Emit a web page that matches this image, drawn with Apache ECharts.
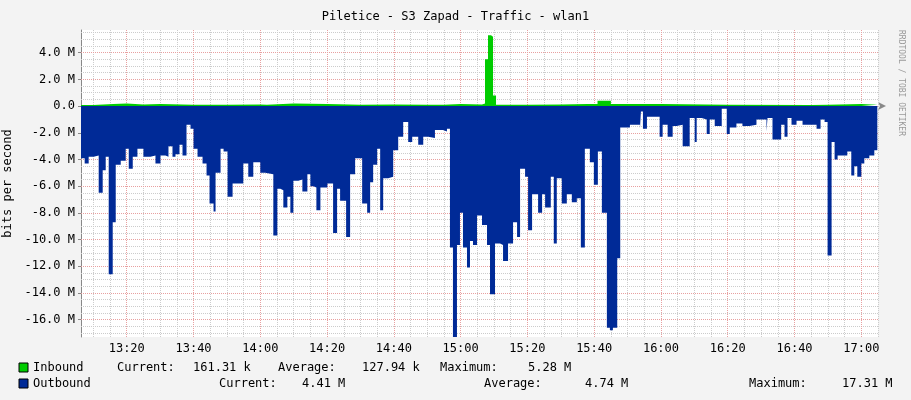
<!DOCTYPE html><html><head><meta charset="utf-8">
<script src="https://cdn.jsdelivr.net/npm/echarts@6/dist/echarts.min.js"></script>
<style>html,body{margin:0;background:#F3F3F3}#c{width:911px;height:400px}</style></head><body><div id="c"></div>
<script>
// minutes after 13:00
const outTimes=[6.2,7.4,8.6,10.1,11.6,12.8,13.7,14.6,15.8,16.7,18.2,19.7,20.6,21.8,23.2,25.0,27.1,28.6,30.1,31.6,32.5,33.7,34.6,35.8,36.7,37.9,39.1,40.0,41.2,42.7,43.9,44.8,46.0,46.6,48.1,49.0,50.2,51.7,53.4,54.9,56.4,57.9,60.0,61.5,63.9,65.1,66.0,66.9,68.1,69.0,69.9,71.4,72.6,74.1,75.0,75.9,76.8,78.0,80.1,81.8,83.0,83.9,85.7,86.9,88.4,90.5,92.0,92.9,93.8,95.0,95.9,96.8,98.3,99.8,101.3,102.8,104.3,105.5,107.3,108.8,110.3,112.3,114.7,115.9,116.8,117.7,118.9,119.8,120.7,121.9,122.8,123.7,124.9,126.4,127.9,128.8,130.3,131.8,132.7,134.2,135.7,136.9,137.8,139.3,140.2,141.4,142.3,143.2,144.4,145.3,146.1,147.0,147.9,148.8,150.3,151.8,153.3,154.8,156.0,157.2,158.7,159.9,161.1,162.3,163.8,164.7,165.6,166.9,167.8,169.9,170.7,173.7,174.0,174.6,175.8,177.5,179.6,180.5,182.0,183.5,184.7,186.5,188.6,190.1,190.7,192.2,193.7,194.6,196.1,198.2,199.7,200.6,202.6,204.4,206.5,208.6,211.6,211.9,213.4,216.0,217.0,217.9,219.1,220.6,222.4,224.5,226.6,227.8,229.0,229.9,231.1,232.0,232.9,234.3,235.8,237.0,237.9,238.8,240.0,240.9,242.4,243.9,244.8];
const outValues=[-3.9,-4.3,-3.8,-3.7,-6.5,-4.8,-3.8,-12.6,-8.7,-4.4,-4.1,-3.2,-4.7,-3.8,-3.2,-3.8,-3.7,-4.3,-3.7,-3.8,-3.0,-3.8,-3.6,-2.9,-3.7,-1.4,-1.7,-3.2,-3.8,-4.3,-5.2,-7.3,-7.9,-5.0,-3.2,-3.4,-6.8,-5.8,-5.8,-4.3,-5.3,-4.2,-5.0,-5.1,-9.7,-6.2,-6.3,-7.6,-6.8,-8.0,-5.6,-5.5,-6.4,-5.1,-6.0,-6.1,-7.8,-6.1,-5.8,-9.5,-6.2,-7.1,-9.8,-5.1,-3.9,-7.3,-8.0,-5.7,-4.4,-3.2,-7.8,-5.4,-5.3,-3.3,-2.3,-1.2,-2.7,-2.3,-2.9,-2.3,-2.4,-1.8,-1.9,-1.7,-10.6,-17.3,-10.4,-8.0,-10.6,-12.1,-10.1,-10.4,-8.2,-8.9,-10.4,-14.1,-10.3,-10.4,-11.6,-10.3,-8.7,-9.8,-4.7,-5.3,-9.3,-6.6,-6.6,-8.0,-6.6,-7.6,-7.6,-5.3,-10.3,-5.4,-7.3,-6.6,-7.2,-6.9,-10.6,-3.2,-4.2,-5.9,-3.4,-8.0,-16.6,-16.8,-16.6,-11.4,-1.6,-1.6,-1.4,-1.7,-0.4,-1.7,-0.8,-0.8,-2.3,-1.4,-2.3,-1.5,-1.4,-3.0,-0.9,-2.7,-0.9,-1.0,-2.1,-1.0,-1.5,-0.2,-2.1,-1.6,-1.3,-1.5,-1.4,-1.0,-1.9,-0.9,-2.5,-1.4,-2.3,-0.9,-1.4,-1.1,-1.4,-1.4,-1.7,-1.0,-1.2,-11.2,-2.7,-4.0,-3.7,-3.7,-3.4,-5.2,-4.5,-5.3,-4.3,-3.9,-3.7,-3.3];
const inTimes=[6.2,10,16,20,25,30,40,50,60,62,70,80,90,100,110,115,120,126.4,127.3,128.2,129.1,129.7,130.6,140,150,158,161,165,180,200,225,230,240,244.8];
const inValues=[0.08,0.15,0.2,0.12,0.15,0.1,0.1,0.12,0.1,0.2,0.15,0.1,0.12,0.1,0.1,0.15,0.12,0.2,3.5,5.3,5.2,0.8,0.1,0.12,0.15,0.15,0.4,0.15,0.1,0.08,0.1,0.15,0.1,0.08];
const xTickValues=[20,40,60,80,100,120,140,160,180,200,220,240];
const xMinorValues=[10,15,25,30,35,45,50,55,65,70,75,85,90,95,105,110,115,125,130,135,145,150,155,165,170,175,185,190,195,205,210,215,225,230,235,245];
const yTickValues=[4,2,0,-2,-4,-6,-8,-10,-12,-14,-16];
const yMinorValues=[5.5,5,4.5,3.5,3,2.5,1.5,1,0.5,-0.5,-1,-1.5,-2.5,-3,-3.5,-4.5,-5,-5.5,-6.5,-7,-7.5,-8.5,-9,-9.5,-10.5,-11,-11.5,-12.5,-13,-13.5,-14.5,-15,-15.5,-16.5,-17];

const pair=(t,v)=>t.map((x,i)=>[x,v[i]]);
const fmtT=m=>{const h=13+Math.floor(m/60),mm=m%60;return h+':'+String(mm).padStart(2,'0');};
const fmtY=v=>v===0?'0.0':v.toFixed(1)+' M';
const dot=(c)=>({type:'dotted',color:c,width:1});
const ml=(key,vals,c)=>vals.map(v=>({[key]:v,lineStyle:dot(c)}));
const FONT='DejaVu Sans Mono';
const txt=(x,y,t)=>({type:'text',x,y,style:{text:t,fontFamily:FONT,fontSize:12,fill:'#000'}});
const ch=echarts.init(document.getElementById('c'));
ch.setOption({
 animation:false,backgroundColor:'#F3F3F3',
 title:{text:'Piletice - S3 Zapad - Traffic - wlan1',left:'center',top:6,textStyle:{fontFamily:FONT,fontSize:12,fontWeight:'normal',color:'#000'}},
 grid:{left:81,right:33,top:30,bottom:63,show:true,backgroundColor:'#fff',borderWidth:0,outerBoundsMode:'none',containLabel:false},
 xAxis:{type:'value',min:6.3,max:245,
  axisLine:{lineStyle:{color:'#888'},symbol:['none','arrow'],symbolSize:[6,8],symbolOffset:[0,8]},
  axisTick:{customValues:xTickValues,length:3,lineStyle:{color:'#888'}},
  axisLabel:{customValues:xTickValues,formatter:fmtT,fontFamily:FONT,fontSize:12,color:'#000',margin:6},
  splitLine:{show:false}},
 yAxis:{type:'value',min:-17.3,max:5.7,
  axisLine:{show:true,lineStyle:{color:'#888'}},
  axisTick:{customValues:yTickValues,length:3,lineStyle:{color:'#888'}},
  axisLabel:{customValues:yTickValues,formatter:fmtY,fontFamily:FONT,fontSize:12,color:'#000',margin:6},
  splitLine:{show:false},
  name:'bits per second',nameLocation:'middle',nameGap:66,nameTextStyle:{fontFamily:FONT,fontSize:12,color:'#000'}},
 series:[
  {type:'line',step:'end',symbol:'none',data:pair(outTimes,outValues),lineStyle:{width:0},areaStyle:{color:'#002A97',opacity:1},z:2,
   markLine:{silent:true,symbol:'none',label:{show:false},z:1,
    data:[...ml('xAxis',xMinorValues,'#ccc'),...ml('yAxis',yMinorValues,'#ccc'),...ml('xAxis',xTickValues,'#e8a0a0'),...ml('yAxis',yTickValues,'#e8a0a0')]}},
  {type:'line',step:'end',symbol:'none',data:pair(inTimes,inValues),lineStyle:{width:0},areaStyle:{color:'#00CC00',opacity:1},z:3}
 ],
 graphic:[
  {type:'text',x:905,y:30,rotation:-Math.PI/2,style:{text:'RRDTOOL / TOBI OETIKER',fontFamily:FONT,fontSize:8,fill:'#999'}},
  {type:'rect',shape:{x:19,y:363,width:9,height:9},style:{fill:'#00CC00',stroke:'#000'}},
  {type:'rect',shape:{x:19,y:379,width:9,height:9},style:{fill:'#002A97',stroke:'#000'}},
  txt(33,362,'Inbound'),txt(117,362,'Current:'),txt(193,362,'161.31 k'),txt(278,362,'Average:'),txt(362,362,'127.94 k'),txt(440,362,'Maximum:'),txt(528,362,'5.28 M'),
  txt(33,378,'Outbound'),txt(219,378,'Current:'),txt(302,378,'4.41 M'),txt(484,378,'Average:'),txt(585,378,'4.74 M'),txt(749,378,'Maximum:'),txt(842,378,'17.31 M')
 ]
});
</script></body></html>
